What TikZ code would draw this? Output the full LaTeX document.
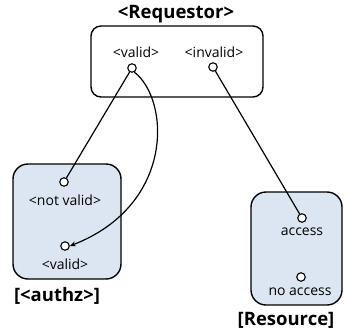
\documentclass[tikz,border=0pt]{standalone}
\usepackage{fontspec}
\setmainfont{Open Sans}
\usetikzlibrary{arrows.meta}
\definecolor{boxblue}{HTML}{DCE6F2}
\tikzset{
  box/.style={draw=black, line width=1.4pt, rounded corners=#1, inner sep=0pt},
  box/.default=12pt,
  port/.style={circle, draw=black, fill=white, line width=1.1pt, minimum size=8.5pt, inner sep=0pt},
  lbl/.style={font=\fontsize{14}{16}\selectfont, inner sep=0pt},
  ttl/.style={font=\bfseries\fontsize{18.5}{21}\selectfont, inner sep=0pt},
  wire/.style={line width=1.2pt}
}
\begin{document}
\begin{tikzpicture}[x=1pt,y=-1pt]
\useasboundingbox (0,0) rectangle (344,334);
% boxes
\node[box=10pt, fill=white, minimum width=172pt, minimum height=71pt] (req) at (177,61.5) {};
\node[box=15pt, fill=boxblue, minimum width=108pt, minimum height=115pt] (authz) at (67,221.5) {};
\node[box=15pt, fill=boxblue, minimum width=91pt, minimum height=113pt] (res) at (296.5,248.5) {};
% titles
\node[ttl] (treq) at (176,14) {<Requestor>};
\node[ttl] (tauthz) at (57,296) {[<authz>]};
\node[ttl] (tres) at (286,320) {[Resource]};
% labels
\node[lbl] (lv) at (136,52) {<valid>};
\node[lbl] (liv) at (214,52) {<invalid>};
\node[lbl] (lnv) at (65,200) {<not valid>};
\node[lbl] (lva) at (65,264) {<valid>};
\node[lbl] (lac) at (302,232) {access};
\node[lbl] (lna) at (300,292) {no access};
% ports
\node[port] (pv) at (132,68) {};
\node[port] (piv) at (213,67) {};
\node[port] (pnv) at (64,182) {};
\node[port] (pva) at (65,246) {};
\node[port] (pac) at (302,218) {};
\node[port] (pna) at (301,277) {};
% connectors
\draw[wire] (pv) -- (pnv);
\draw[wire] (piv) -- (pac);
\draw[wire, -{Stealth[length=6pt,width=5pt]}] (pv.-60) .. controls (170,100) and (175,205) .. (pva.east);
\end{tikzpicture}
\end{document}
